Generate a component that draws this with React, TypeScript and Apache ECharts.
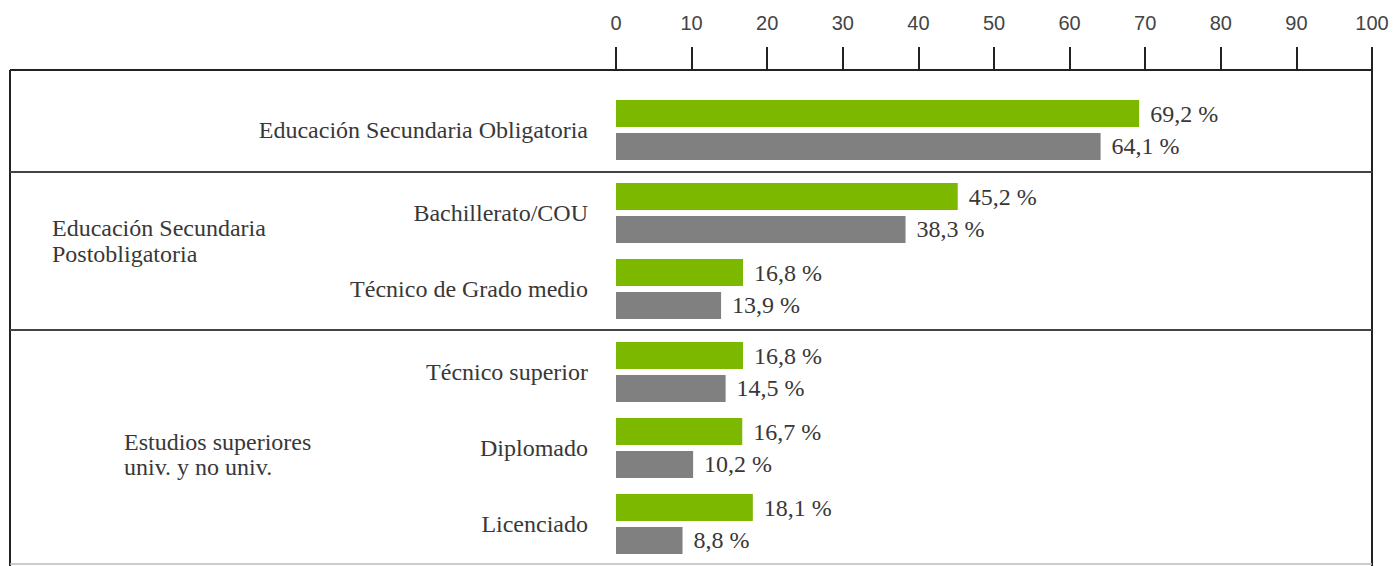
import React, { useEffect, useRef } from "react";
import * as echarts from "echarts";

const categories = [
  "Educación Secundaria Obligatoria",
  "Bachillerato/COU",
  "Técnico de Grado medio",
  "Técnico superior",
  "Diplomado",
  "Licenciado",
];
const groupOfCategory = [0, 1, 1, 2, 2, 2];
const groupLabels = ["", "Educación Secundaria\nPostobligatoria", "Estudios superiores\nuniv. y no univ."];
const greenValues = [69.2, 45.2, 16.8, 16.8, 16.7, 18.1];
const grayValues = [64.1, 38.3, 13.9, 14.5, 10.2, 8.8];
const xMin = 0;
const xMax = 100;
const xInterval = 10;

const GREEN = "#7cb800";
const GRAY = "#808080";
const SERIF = "'Liberation Serif', 'Times New Roman', serif";
const SANS = "'Liberation Sans', Arial, sans-serif";
const TEXT = "#383838";

// layout (pixels)
const LEFT = 616;
const RIGHT_X = 1372;
const AXIS_Y = 70;
const gridBoxes = [
  { top: 92, height: 76 },
  { top: 175, height: 152 },
  { top: 334, height: 228 },
];

const fmt = (v: number) => v.toFixed(1).replace(".", ",") + " %";

export default function App() {
  const ref = useRef<HTMLDivElement>(null);
  useEffect(() => {
    document.body.style.margin = "0";
    const chart = echarts.init(ref.current!, null, { renderer: "svg" });

    const groups = [0, 1, 2].map((g) => {
      const idx = categories.map((_, i) => i).filter((i) => groupOfCategory[i] === g);
      return {
        cats: idx.map((i) => categories[i]),
        green: idx.map((i) => greenValues[i]),
        gray: idx.map((i) => grayValues[i]),
      };
    });

    const grid = gridBoxes.map((b) => ({
      left: LEFT,
      right: 1400 - RIGHT_X,
      top: b.top,
      height: b.height,
      containLabel: false,
    }));

    const xAxis = groups.map((_, g) => ({
      type: "value",
      gridIndex: g,
      min: xMin,
      max: xMax,
      interval: xInterval,
      position: "top",
      offset: g === 0 ? gridBoxes[0].top - AXIS_Y : 0,
      show: g === 0,
      axisLine: { show: true, lineStyle: { color: "#222", width: 2 } },
      axisTick: { show: true, inside: false, length: 23, lineStyle: { color: "#222", width: 2 } },
      axisLabel: { show: true, margin: 37, fontFamily: SANS, fontSize: 20, color: "#444" },
      splitLine: { show: false },
    }));

    const yAxis = groups.map((gr, g) => ({
      type: "category",
      gridIndex: g,
      data: gr.cats,
      inverse: true,
      axisLine: { show: false },
      axisTick: { show: false },
      splitLine: { show: false },
      axisLabel: { margin: 28, fontFamily: SERIF, fontSize: 24, color: TEXT },
    }));

    const labelCommon = {
      show: true,
      position: "right",
      distance: 11,
      fontFamily: SERIF,
      fontSize: 24,
      color: TEXT,
      formatter: (p: any) => fmt(p.value),
    };

    const series: any[] = [];
    groups.forEach((gr, g) => {
      series.push({
        type: "bar",
        xAxisIndex: g,
        yAxisIndex: g,
        data: gr.green,
        barWidth: 27,
        barGap: "22%",
        itemStyle: { color: GREEN },
        label: labelCommon,
      });
      series.push({
        type: "bar",
        xAxisIndex: g,
        yAxisIndex: g,
        data: gr.gray,
        barWidth: 27,
        barGap: "22%",
        itemStyle: { color: GRAY },
        label: labelCommon,
      });
    });

    const sepY = [172, 330];
    const graphic: any[] = [
      { type: "line", shape: { x1: 10, y1: AXIS_Y, x2: LEFT, y2: AXIS_Y }, style: { stroke: "#222", lineWidth: 2 } },
      { type: "line", shape: { x1: 10, y1: AXIS_Y, x2: 10, y2: 566 }, style: { stroke: "#222", lineWidth: 2 } },
      { type: "line", shape: { x1: RIGHT_X, y1: AXIS_Y, x2: RIGHT_X, y2: 566 }, style: { stroke: "#222", lineWidth: 2 } },
      { type: "line", shape: { x1: 10, y1: 564, x2: RIGHT_X, y2: 564 }, style: { stroke: "#bbb", lineWidth: 1.5 } },
      ...sepY.map((y) => ({
        type: "line",
        shape: { x1: 10, y1: y, x2: RIGHT_X, y2: y },
        style: { stroke: "#444", lineWidth: 2 },
      })),
      {
        type: "text",
        left: 52,
        top: 215,
        style: { text: groupLabels[1], font: `24px ${SERIF}`, fill: TEXT, lineHeight: 26 },
      },
      {
        type: "text",
        left: 124,
        top: 429,
        style: { text: groupLabels[2], font: `24px ${SERIF}`, fill: TEXT, lineHeight: 25 },
      },
    ];

    chart.setOption({
      animation: false,
      backgroundColor: "#fff",
      grid,
      xAxis,
      yAxis,
      series,
      graphic,
    });
    return () => chart.dispose();
  }, []);
  return <div ref={ref} style={{ width: 1400, height: 566 }} />;
}
